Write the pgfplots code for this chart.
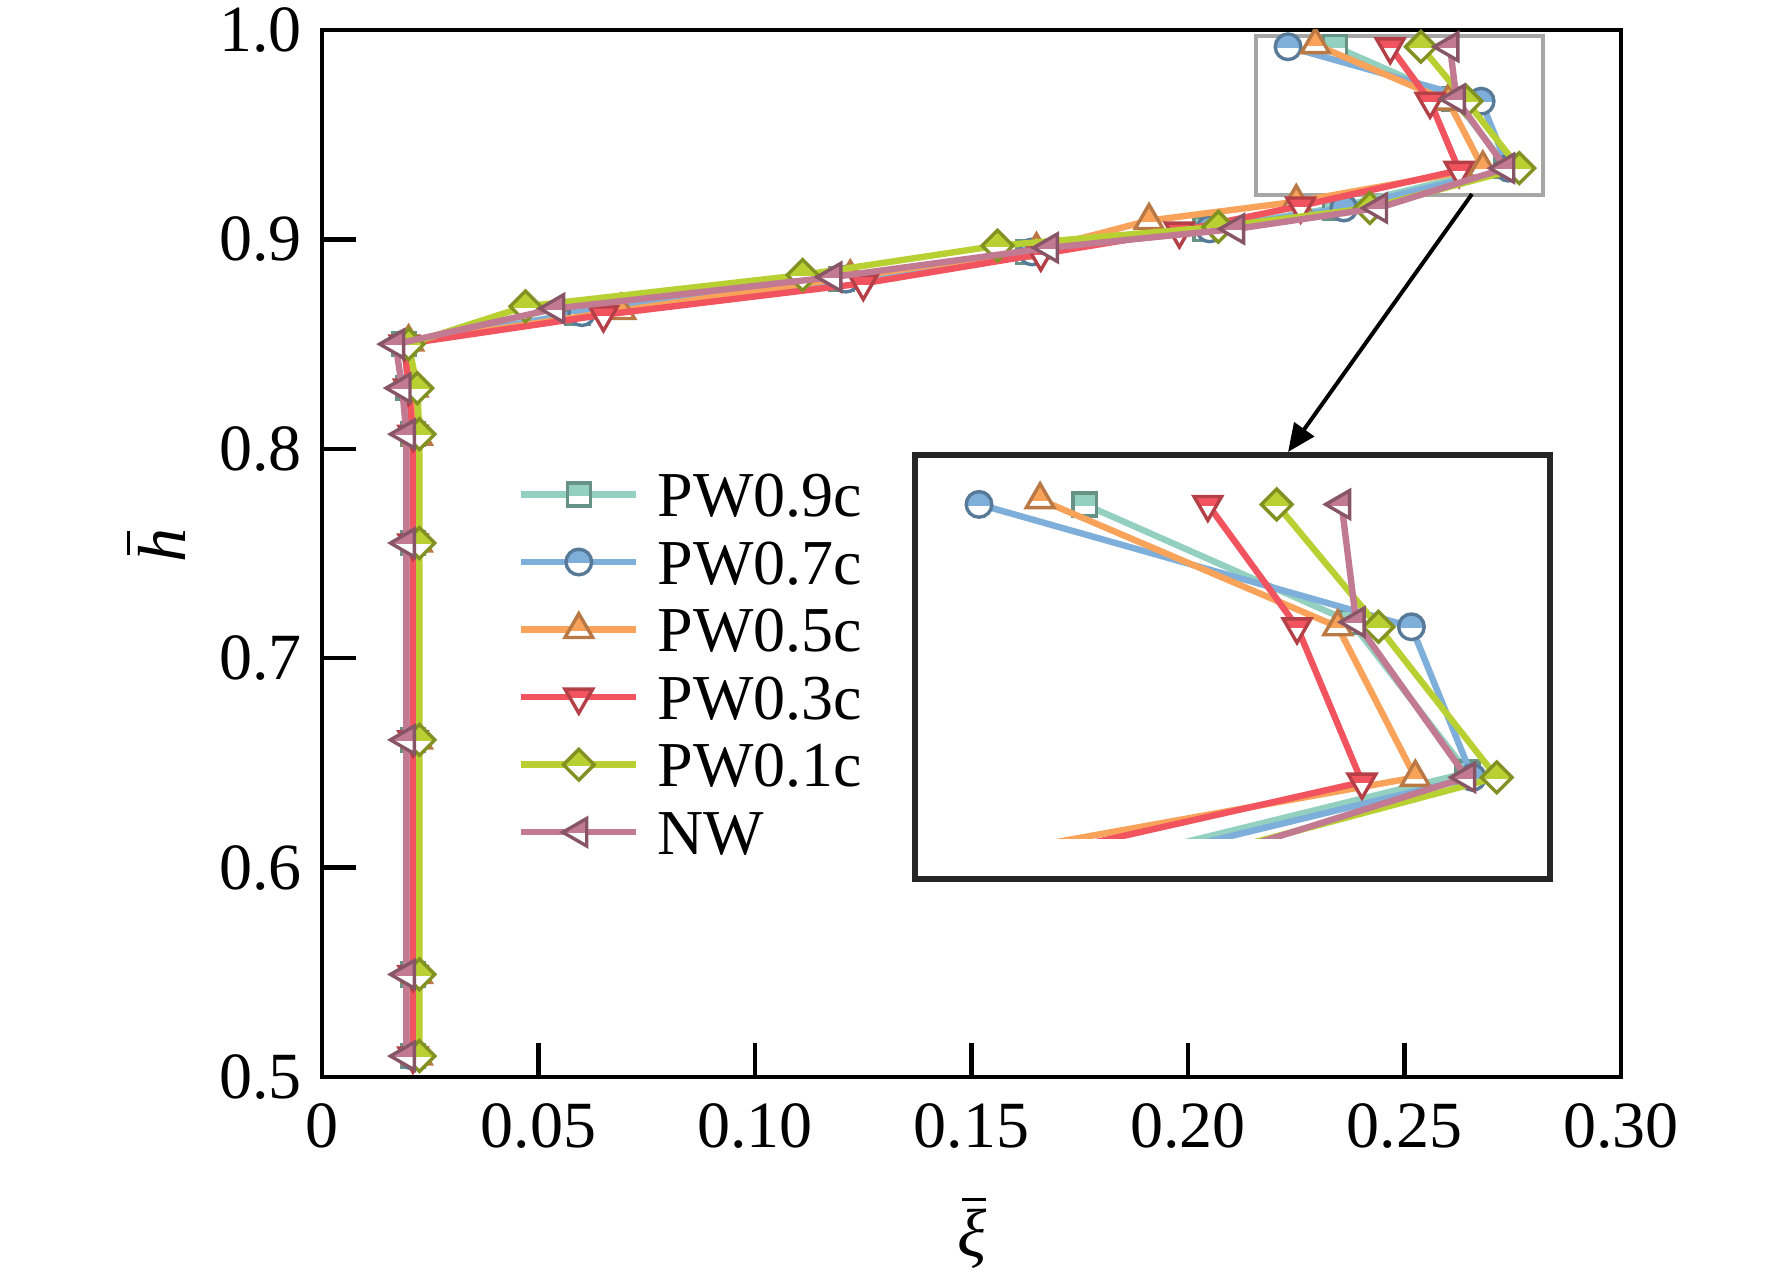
\documentclass[border=0pt]{standalone}
\usepackage{fontspec}
\setmainfont{Liberation Serif}
\usepackage{pgfplots}
\pgfplotsset{compat=1.18}
\usetikzlibrary{arrows.meta}

\definecolor{c9}{HTML}{93D0C0}
\definecolor{c7}{HTML}{7EAEDA}
\definecolor{c5}{HTML}{F8A25A}
\definecolor{c3}{HTML}{F2545F}
\definecolor{c1}{HTML}{B8D032}
\definecolor{cn}{HTML}{C27A92}

\newcommand\halfmark[1]{%
  \pgfscope\pgfsetfillcolor{white}#1\pgfusepath{fill}\endpgfscope
  \pgfscope
    \pgfpathrectangle{\pgfqpoint{-3\pgfplotmarksize}{-0.05\pgfplotmarksize}}{\pgfqpoint{6\pgfplotmarksize}{4\pgfplotmarksize}}\pgfusepath{clip}%
    #1\pgfusepath{fill}%
  \endpgfscope
  #1\pgfusepath{stroke}}
\pgfdeclareplotmark{hcircle}{\halfmark{\pgfpathcircle{\pgfpointorigin}{\pgfplotmarksize}}}
\pgfdeclareplotmark{hsquare}{\halfmark{\pgfpathrectangle{\pgfqpoint{-.9\pgfplotmarksize}{-.9\pgfplotmarksize}}{\pgfqpoint{1.8\pgfplotmarksize}{1.8\pgfplotmarksize}}}}
\pgfdeclareplotmark{htriup}{\halfmark{%
  \pgfpathmoveto{\pgfqpoint{0pt}{1.25\pgfplotmarksize}}%
  \pgfpathlineto{\pgfqpoint{-1.08\pgfplotmarksize}{-.62\pgfplotmarksize}}%
  \pgfpathlineto{\pgfqpoint{1.08\pgfplotmarksize}{-.62\pgfplotmarksize}}%
  \pgfpathclose}}
\pgfdeclareplotmark{htridown}{\halfmark{%
  \pgfpathmoveto{\pgfqpoint{0pt}{-1.25\pgfplotmarksize}}%
  \pgfpathlineto{\pgfqpoint{-1.08\pgfplotmarksize}{.62\pgfplotmarksize}}%
  \pgfpathlineto{\pgfqpoint{1.08\pgfplotmarksize}{.62\pgfplotmarksize}}%
  \pgfpathclose}}
\pgfdeclareplotmark{hdiamond}{\halfmark{%
  \pgfpathmoveto{\pgfqpoint{0pt}{1.2\pgfplotmarksize}}%
  \pgfpathlineto{\pgfqpoint{1.2\pgfplotmarksize}{0pt}}%
  \pgfpathlineto{\pgfqpoint{0pt}{-1.2\pgfplotmarksize}}%
  \pgfpathlineto{\pgfqpoint{-1.2\pgfplotmarksize}{0pt}}%
  \pgfpathclose}}
\pgfdeclareplotmark{htrileft}{\halfmark{%
  \pgfpathmoveto{\pgfqpoint{-1.25\pgfplotmarksize}{0pt}}%
  \pgfpathlineto{\pgfqpoint{.62\pgfplotmarksize}{1.08\pgfplotmarksize}}%
  \pgfpathlineto{\pgfqpoint{.62\pgfplotmarksize}{-1.08\pgfplotmarksize}}%
  \pgfpathclose}}

\pgfplotsset{
  sbase/.style={line width=1.6pt, mark size=3.2pt},
  s9/.style={sbase, color=c9, mark=hsquare, mark options={solid, fill=c9, draw=c9!70!black, line width=0.85pt}},
  s7/.style={sbase, color=c7, mark=hcircle, mark options={solid, fill=c7, draw=c7!70!black, line width=0.85pt}},
  s5/.style={sbase, color=c5, mark=htriup, mark options={solid, fill=c5, draw=c5!75!black, line width=0.85pt}},
  s3/.style={sbase, color=c3, mark=htridown, mark options={solid, fill=c3, draw=c3!75!black, line width=0.85pt}},
  s1/.style={sbase, color=c1, mark=hdiamond, mark options={solid, fill=c1, draw=c1!70!black, line width=0.85pt}},
  sn/.style={sbase, color=cn, mark=htrileft, mark options={solid, fill=cn, draw=cn!70!black, line width=0.85pt}},
}

% data: x = xi bar, y = h bar
\pgfplotstableread{
x y
0.021 0.510
0.021 0.549
0.021 0.661
0.021 0.755
0.021 0.807
0.020 0.829
0.019 0.850
0.059 0.865
0.120 0.881
0.163 0.894
0.204 0.905
0.234 0.915
0.2735 0.935
0.2615 0.967
0.2340 0.992
}\dnine
\pgfplotstableread{
x y
0.021 0.510
0.021 0.549
0.021 0.661
0.021 0.755
0.021 0.807
0.020 0.829
0.019 0.850
0.060 0.865
0.121 0.881
0.164 0.894
0.205 0.905
0.236 0.915
0.2740 0.934
0.2677 0.966
0.2231 0.992
}\dseven
\pgfplotstableread{
x y
0.022 0.510
0.022 0.549
0.022 0.661
0.022 0.755
0.022 0.806
0.021 0.829
0.020 0.851
0.069 0.866
0.122 0.882
0.165 0.895
0.191 0.909
0.225 0.918
0.2681 0.934
0.2601 0.966
0.2294 0.993
}\dfive
\pgfplotstableread{
x y
0.021 0.510
0.021 0.549
0.021 0.661
0.021 0.755
0.021 0.807
0.020 0.829
0.019 0.850
0.065 0.864
0.125 0.879
0.166 0.893
0.198 0.904
0.226 0.916
0.2626 0.933
0.2559 0.966
0.2467 0.992
}\dthree
\pgfplotstableread{
x y
0.0225 0.510
0.0225 0.549
0.0225 0.661
0.0225 0.755
0.0225 0.807
0.0220 0.829
0.0200 0.850
0.047 0.868
0.111 0.883
0.156 0.897
0.207 0.906
0.242 0.915
0.2765 0.934
0.2643 0.966
0.2538 0.992
}\done
\pgfplotstableread{
x y
0.0195 0.510
0.0195 0.549
0.0195 0.661
0.0195 0.755
0.0195 0.807
0.0185 0.829
0.0170 0.850
0.054 0.867
0.118 0.882
0.168 0.896
0.211 0.905
0.244 0.915
0.2734 0.934
0.2620 0.967
0.2605 0.992
}\dnw

\begin{document}
\begin{tikzpicture}
\path[use as bounding box] (0,0) rectangle (443pt,319.25pt);
\begin{axis}[
  at={(80.5pt,50pt)}, anchor=south west,
  width=324.75pt, height=261.75pt, scale only axis,
  xmin=0, xmax=0.30, ymin=0.5, ymax=1.0,
  xtick={0,0.05,0.1,0.15,0.2,0.25,0.3},
  xticklabels={0,0.05,0.10,0.15,0.20,0.25,0.30},
  ytick={0.5,0.6,0.7,0.8,0.9,1.0},
  yticklabels={0.5,0.6,0.7,0.8,0.9,1.0},
  tick pos=left, tick align=inside,
  major tick length=8.5pt,
  axis line style={line width=1.1pt},
  every tick/.style={line width=1.1pt, black},
  /pgf/number format/assume math mode=true,
  ticklabel style={font=\fontsize{16.5}{19}\selectfont},
  xticklabel style={yshift=-3pt},
  yticklabel style={xshift=-1.5pt},
  clip marker paths=true,
  legend style={at={(axis description cs:0.1509,0.6047)}, anchor=north west,
    draw=none, fill=none, inner sep=0pt, outer sep=0pt,
    font=\fontsize{16}{19}\selectfont,
    nodes={inner sep=0pt, text height=11pt, text depth=0pt},
    row sep=-1.25pt, column sep=4.5pt},
  legend cell align=left,
  legend image code/.code={\draw[mark repeat=2,mark phase=2,#1] plot coordinates {(0pt,0pt) (14.4pt,0pt) (28.75pt,0pt)};},
]
\draw[black!35, line width=1pt] (axis cs:0.2157,0.921) rectangle (axis cs:0.282,0.997);
\addplot[s9] table {\dnine};
\addlegendentry{PW0.9c}
\addplot[s7] table {\dseven};
\addlegendentry{PW0.7c}
\addplot[s5] table {\dfive};
\addlegendentry{PW0.5c}
\addplot[s3] table {\dthree};
\addlegendentry{PW0.3c}
\addplot[s1] table {\done};
\addlegendentry{PW0.1c}
\addplot[sn] table {\dnw};
\addlegendentry{NW}
\end{axis}

% inset
\fill[white] (228.75pt,99.5pt) rectangle (387.5pt,205.5pt);
\begin{axis}[
  at={(228.75pt,109.6pt)}, anchor=south west,
  width=158.75pt, height=95.9pt, scale only axis,
  xmin=0.2165, xmax=0.282, ymin=0.921, ymax=1.0025,
  hide axis, clip marker paths=true,
]
\addplot[s9] table {\dnine};
\addplot[s7] table {\dseven};
\addplot[s5] table {\dfive};
\addplot[s3] table {\dthree};
\addplot[s1] table {\done};
\addplot[sn] table {\dnw};
\end{axis}
\draw[line width=1.3pt, black!85] (228.75pt,99.5pt) rectangle (387.5pt,205.5pt);

\draw[line width=1pt, -{Triangle[length=7pt,width=6pt]}] (368pt,270.75pt) -- (322pt,206.25pt);

% axis labels
\node[font=\fontsize{17}{20}\selectfont\itshape, inner sep=0pt] (xl) at (243pt,9.5pt) {ξ};
\draw[line width=0.8pt] ([xshift=-2.5pt,yshift=2.2pt]xl.north) -- ([xshift=3.5pt,yshift=2.2pt]xl.north);
\node[rotate=90, font=\fontsize{17}{20}\selectfont\itshape, inner sep=0pt] (yl) at (40.5pt,183pt) {h};
\draw[line width=0.8pt] ([xshift=-2.2pt,yshift=-2.5pt]yl.north) -- ([xshift=-2.2pt,yshift=3.5pt]yl.north);
\end{tikzpicture}
\end{document}
